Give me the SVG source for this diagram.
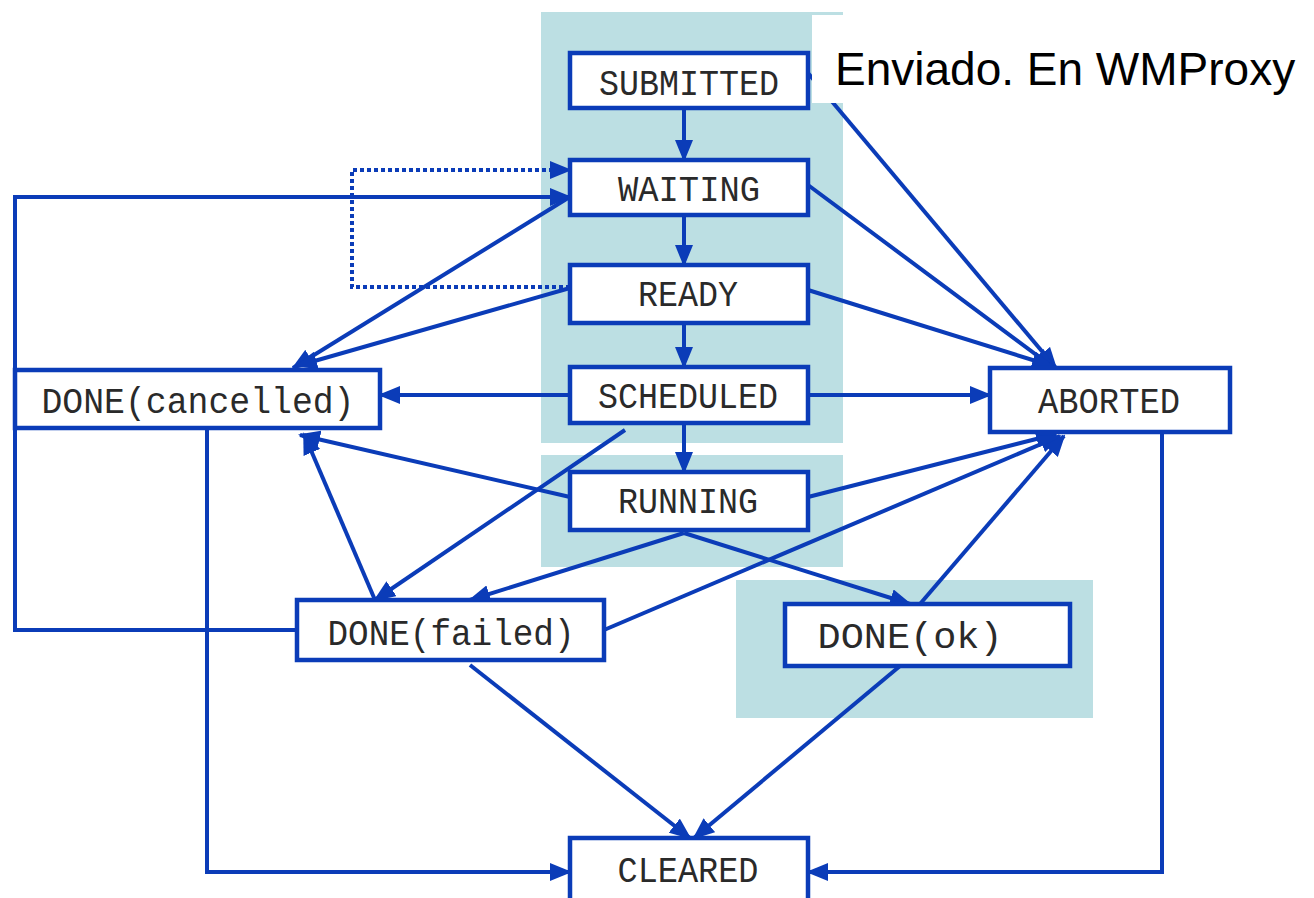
<svg xmlns="http://www.w3.org/2000/svg" width="1314" height="898" viewBox="0 0 1314 898">
<style>
.bg{fill:#bcdfe3}
.node rect{fill:#fff;stroke:#0b3cb8;stroke-width:4.5}
.node text{font-family:"Liberation Mono","DejaVu Sans Mono",monospace;font-size:36px;fill:#2a2a2a;text-anchor:middle}
.c{fill:none;stroke:#0b3cb8;stroke-width:4;marker-end:url(#ah)}
.n{fill:none;stroke:#0b3cb8;stroke-width:4}
.d{fill:none;stroke:#0b3cb8;stroke-width:4;stroke-dasharray:4 3;marker-end:url(#ah)}
.lbl{font-family:"Liberation Sans",Arial,sans-serif;font-size:46px;fill:#000}
</style>
<defs>
<marker id="ah" markerUnits="userSpaceOnUse" markerWidth="22" markerHeight="18" refX="20" refY="9" orient="auto">
<path d="M0,0 L22,9 L0,18 z" fill="#0b3cb8"/>
</marker>
</defs>
<rect width="1314" height="898" fill="#fff"/>
<g id="regions">
<rect class="bg" x="541" y="12" width="302" height="431"/>
<rect class="bg" x="541" y="455" width="302" height="112"/>
<rect class="bg" x="736" y="580" width="357" height="138"/>
</g>
<g id="connectors">
<line class="c" x1="684" y1="108" x2="684" y2="160"/>
<line class="c" x1="684" y1="215" x2="684" y2="265"/>
<line class="c" x1="684" y1="323" x2="684" y2="367"/>
<line class="c" x1="684" y1="423" x2="684" y2="472"/>
<line class="c" x1="808" y1="73" x2="1056" y2="368"/>
<line class="c" x1="808" y1="185" x2="1054" y2="368"/>
<line class="c" x1="808" y1="290" x2="1052" y2="366"/>
<line class="c" x1="808" y1="395" x2="990" y2="395"/>
<line class="c" x1="808" y1="497" x2="1056" y2="434"/>
<line class="c" x1="604" y1="630" x2="1060" y2="436"/>
<line class="c" x1="920" y1="604" x2="1064" y2="436"/>
<polyline class="c" points="1162,432 1162,872 808,872"/>
<polyline class="c" points="207,428 207,872 570,872"/>
<line class="c" x1="470" y1="665" x2="690" y2="838"/>
<line class="c" x1="900" y1="666" x2="694" y2="838"/>
<line class="c" x1="570" y1="395" x2="380" y2="395"/>
<line class="c" x1="568" y1="198" x2="293" y2="368"/>
<line class="c" x1="570" y1="288" x2="297" y2="366"/>
<line class="c" x1="570" y1="497" x2="300" y2="435"/>
<line class="c" x1="375" y1="600" x2="304" y2="434"/>
<line class="c" x1="625" y1="430" x2="375" y2="600"/>
<line class="c" x1="684" y1="533" x2="470" y2="600"/>
<line class="c" x1="684" y1="533" x2="910" y2="604"/>
<polyline class="c" points="297,630 15,630 15,197 570,197"/>
<polyline class="d" points="570,287 352,287 352,170 570,170"/>
</g>
<g id="submitted" class="node"><rect x="570" y="53" width="238" height="55"/><text x="689" y="95" textLength="180" lengthAdjust="spacingAndGlyphs">SUBMITTED</text></g>
<g id="waiting" class="node"><rect x="570" y="160" width="238" height="55"/><text x="689" y="201" textLength="142" lengthAdjust="spacingAndGlyphs">WAITING</text></g>
<g id="ready" class="node"><rect x="570" y="265" width="238" height="58"/><text x="688" y="306" textLength="100" lengthAdjust="spacingAndGlyphs">READY</text></g>
<g id="scheduled" class="node"><rect x="570" y="367" width="238" height="56"/><text x="688" y="408" textLength="180" lengthAdjust="spacingAndGlyphs">SCHEDULED</text></g>
<g id="running" class="node"><rect x="570" y="472" width="238" height="58"/><text x="688" y="513" textLength="140" lengthAdjust="spacingAndGlyphs">RUNNING</text></g>
<g id="done-cancelled" class="node"><rect x="15" y="370" width="365" height="58"/><text x="198" y="413" textLength="313" lengthAdjust="spacingAndGlyphs">DONE(cancelled)</text></g>
<g id="aborted" class="node"><rect x="990" y="368" width="240" height="64"/><text x="1109" y="413" textLength="142" lengthAdjust="spacingAndGlyphs">ABORTED</text></g>
<g id="done-failed" class="node"><rect x="297" y="600" width="307" height="60"/><text x="451" y="645" textLength="247" lengthAdjust="spacingAndGlyphs">DONE(failed)</text></g>
<g id="done-ok" class="node"><rect x="785" y="604" width="285" height="62"/><text x="910" y="648" textLength="185" lengthAdjust="spacingAndGlyphs">DONE(ok)</text></g>
<g id="cleared" class="node"><rect x="570" y="838" width="238" height="64"/><text x="688" y="882" textLength="141" lengthAdjust="spacingAndGlyphs">CLEARED</text></g>
<g id="label">
<rect x="812" y="15" width="510" height="88" fill="#fff"/>
<text class="lbl" x="835" y="85">Enviado. En WMProxy</text>
</g>
</svg>
